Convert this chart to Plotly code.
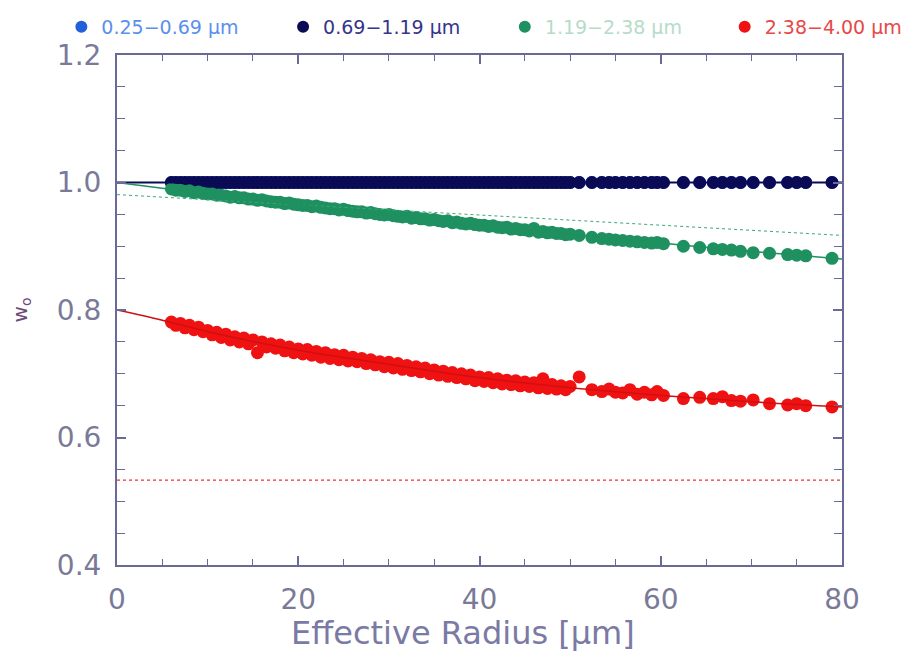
import plotly.graph_objects as go

# ---------------- data ----------------
radius = [6.0, 6.5, 7.0, 7.5, 8.0, 8.5, 9.0, 9.5, 10.0, 10.5, 11.0, 11.5, 12.0, 12.5,
          13.0, 13.5, 14.0, 14.5, 15.0, 15.5, 16.0, 16.5, 17.0, 17.5, 18.0, 18.5,
          19.0, 19.5, 20.0, 20.5, 21.0, 21.5, 22.0, 22.5, 23.0, 23.5, 24.0, 24.5,
          25.0, 25.5, 26.0, 26.5, 27.0, 27.5, 28.0, 28.5, 29.0, 29.5, 30.0, 30.5,
          31.0, 31.5, 32.0, 32.5, 33.0, 33.5, 34.0, 34.5, 35.0, 35.5, 36.0, 36.5,
          37.0, 37.5, 38.0, 38.5, 39.0, 39.5, 40.0, 40.5, 41.0, 41.5, 42.0, 42.5,
          43.0, 43.5, 44.0, 44.5, 45.0, 45.5, 46.0, 46.5, 47.0, 47.5, 48.0, 48.5,
          49.0, 49.5, 50.0,
          51.0, 52.4, 53.5, 54.3, 55.0, 55.8, 56.6, 57.4, 58.2, 59.0, 59.6, 60.3,
          62.5, 64.3, 65.8, 66.8, 67.8, 68.8, 70.2, 72.0, 74.0, 75.0, 76.0, 78.9]

w_blue = [1.0] * len(radius)
w_navy = [1.0] * len(radius)

w_green = [0.990, 0.988, 0.988, 0.986, 0.987, 0.984, 0.985, 0.983, 0.982, 0.982,
           0.980, 0.980, 0.979, 0.977, 0.978, 0.976, 0.976, 0.974, 0.974, 0.972,
           0.973, 0.971, 0.970, 0.969, 0.969, 0.967, 0.968, 0.966, 0.965, 0.964,
           0.964, 0.962, 0.963, 0.961, 0.960, 0.959, 0.959, 0.957, 0.958, 0.956,
           0.955, 0.954, 0.954, 0.952, 0.953, 0.951, 0.950, 0.949, 0.950, 0.948,
           0.947, 0.946, 0.947, 0.944, 0.945, 0.943, 0.943, 0.941, 0.942, 0.940,
           0.939, 0.940, 0.937, 0.938, 0.936, 0.935, 0.936, 0.934, 0.933, 0.933,
           0.931, 0.932, 0.930, 0.929, 0.930, 0.927, 0.928, 0.926, 0.926, 0.924,
           0.928, 0.922, 0.923, 0.921, 0.922, 0.920, 0.920, 0.918, 0.919,
           0.917, 0.914, 0.912, 0.911, 0.910, 0.909, 0.908, 0.907, 0.906, 0.905,
           0.906, 0.904, 0.900, 0.898, 0.896, 0.895, 0.894, 0.892, 0.890, 0.889,
           0.887, 0.886, 0.885, 0.881]

w_red = [0.781, 0.776, 0.779, 0.772, 0.776, 0.769, 0.773, 0.766, 0.768, 0.761,
         0.765, 0.757, 0.762, 0.753, 0.758, 0.750, 0.756, 0.747, 0.753, 0.733,
         0.750, 0.742, 0.747, 0.740, 0.745, 0.736, 0.742, 0.733, 0.739, 0.731,
         0.738, 0.729, 0.735, 0.726, 0.733, 0.724, 0.730, 0.722, 0.729, 0.720,
         0.726, 0.719, 0.724, 0.716, 0.722, 0.714, 0.719, 0.711, 0.718, 0.709,
         0.716, 0.707, 0.713, 0.705, 0.711, 0.703, 0.709, 0.700, 0.706, 0.698,
         0.704, 0.696, 0.702, 0.694, 0.700, 0.692, 0.698, 0.689, 0.695, 0.688,
         0.694, 0.686, 0.692, 0.684, 0.690, 0.683, 0.689, 0.681, 0.687, 0.680,
         0.686, 0.678, 0.692, 0.677, 0.683, 0.676, 0.681, 0.675, 0.680,
         0.695, 0.675, 0.672, 0.676, 0.671, 0.670, 0.675, 0.668, 0.671, 0.667,
         0.672, 0.666, 0.661, 0.663, 0.661, 0.664, 0.658, 0.657, 0.659, 0.653,
         0.651, 0.653, 0.650, 0.648]

fit_radius = [0, 5, 10, 20, 30, 40, 50, 60, 70, 80]
fit_navy = [1.0, 1.0, 1.0, 1.0, 1.0, 1.0, 1.0, 1.0, 1.0, 1.0]
fit_green = [1.0, 0.991, 0.982, 0.965, 0.949, 0.934, 0.919, 0.905, 0.892, 0.880]
fit_red = [0.800, 0.784, 0.766, 0.737, 0.715, 0.694, 0.678, 0.666, 0.656, 0.648]

ref_radius = [0, 80]
ref_green = [0.981, 0.917]
ref_red = [0.533, 0.533]

legend_labels = ["0.25\u22120.69 \u03bcm", "0.69\u22121.19 \u03bcm",
                 "1.19\u22122.38 \u03bcm", "2.38\u22124.00 \u03bcm"]

x_ticks = [0, 20, 40, 60, 80]
y_ticks = [0.4, 0.6, 0.8, 1.0, 1.2]
y_tick_text = ["0.4", "0.6", "0.8", "1.0", "1.2"]

# ---------------- style ----------------
c_blue, c_navy, c_green, c_red = "#2060d8", "#0a0a55", "#1f9060", "#f01212"
t_blue, t_navy, t_green, t_red = "#5a90ec", "#34348c", "#b6dcc8", "#e84848"
axis_col = "#6a6a98"
font_fam = "DejaVu Sans"

fig = go.Figure()

legend_ids = ["legend", "legend2", "legend3", "legend4"]
legend_x = [0.058, 0.299, 0.540, 0.779]

def pts(y, col, txt, label, lid):
    fig.add_trace(go.Scatter(
        x=radius, y=y, mode="markers",
        marker=dict(color=col, size=13, line=dict(width=0)),
        name=f"<span style='color:{txt}'>{label}</span>",
        legend=lid, showlegend=True))

pts(w_blue, c_blue, t_blue, legend_labels[0], legend_ids[0])
pts(w_navy, c_navy, t_navy, legend_labels[1], legend_ids[1])
pts(w_green, c_green, t_green, legend_labels[2], legend_ids[2])
pts(w_red, c_red, t_red, legend_labels[3], legend_ids[3])

# dotted reference lines
fig.add_trace(go.Scatter(x=ref_radius, y=ref_green, mode="lines",
                         line=dict(color="#3aa878", width=1, dash="dot"), showlegend=False))
fig.add_trace(go.Scatter(x=ref_radius, y=ref_red, mode="lines",
                         line=dict(color="#f03030", width=1.2, dash="dot"), showlegend=False))

# fit lines
fig.add_trace(go.Scatter(x=fit_radius, y=fit_navy, mode="lines",
                         line=dict(color=c_navy, width=2), showlegend=False))
fig.add_trace(go.Scatter(x=fit_radius, y=fit_green, mode="lines", line_shape="spline",
                         line=dict(color=c_green, width=1.5), showlegend=False))
fig.add_trace(go.Scatter(x=fit_radius, y=fit_red, mode="lines", line_shape="spline",
                         line=dict(color="#d01010", width=1.5), showlegend=False))

axis_common = dict(
    showline=True, linecolor=axis_col, linewidth=2, mirror="ticks",
    ticks="inside", ticklen=9, tickwidth=1.5, tickcolor=axis_col,
    showgrid=False, zeroline=False,
    tickfont=dict(family=font_fam, size=28, color="#7a7a98"),
)

fig.update_xaxes(range=[0, 80], tickvals=x_ticks, ticklabelstandoff=8,
                 minor=dict(dtick=5, ticks="inside", ticklen=6, tickcolor=axis_col, tickwidth=1.2),
                 **axis_common)
fig.update_yaxes(range=[0.4, 1.2], tickvals=y_ticks, ticktext=y_tick_text,
                 ticklabelstandoff=8,
                 minor=dict(dtick=0.05, tick0=0.4, ticks="inside", ticklen=8, tickcolor=axis_col, tickwidth=1.2),
                 title=dict(text="w<sub>o</sub>", standoff=30,
                            font=dict(family=font_fam, size=20, color="#6e4a78")),
                 **axis_common)

# x-axis title (placed slightly left of centre, as in the original)
fig.add_annotation(text="Effective Radius [\u03bcm]", xref="paper", yref="paper",
                   x=0.477, y=-0.133, xanchor="center", yanchor="middle",
                   showarrow=False,
                   font=dict(family=font_fam, size=32, color="#7a7aa4"))

legend_common = dict(orientation="h", xref="container", y=1.0, yref="container",
                     yanchor="top", font=dict(family=font_fam, size=19),
                     itemsizing="constant", bgcolor="rgba(0,0,0,0)")

fig.update_layout(
    width=920, height=662,
    margin=dict(l=109, r=86, t=47, b=105, autoexpand=False),
    paper_bgcolor="white", plot_bgcolor="white",
    showlegend=True,
    legend=dict(x=legend_x[0], **legend_common),
    legend2=dict(x=legend_x[1], **legend_common),
    legend3=dict(x=legend_x[2], **legend_common),
    legend4=dict(x=legend_x[3], **legend_common),
)

fig.write_html("out.html")
